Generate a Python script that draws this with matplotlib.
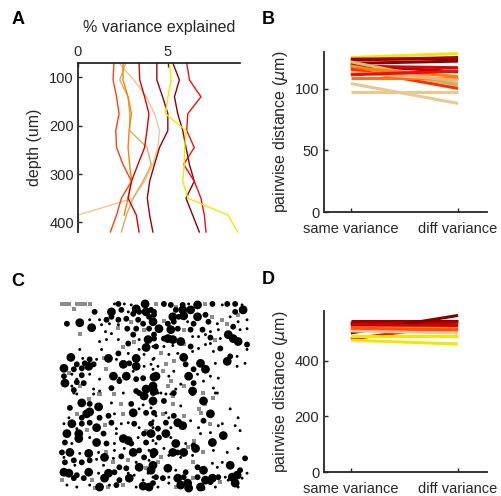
import numpy as np
import matplotlib
matplotlib.use('Agg')
import matplotlib.pyplot as plt

plt.rcParams['font.family'] = ['Liberation Sans', 'DejaVu Sans']
plt.rcParams['axes.edgecolor'] = '#262626'
plt.rcParams['xtick.color'] = '#262626'
plt.rcParams['ytick.color'] = '#262626'
plt.rcParams['axes.labelcolor'] = '#262626'

# ---- panel A: % variance explained vs depth
profundidad = [70, 105, 140, 175, 210, 245, 280, 315, 350, 385, 420]
var_amarillo = [5.08, 5.17, 5.0, 4.86, 6.0, 5.93, 5.9, 5.82, 6.1, 8.33, 8.88]
var_granate1 = [4.38, 4.38, 4.7, 4.99, 4.99, 4.53, 4.25, 3.98, 3.85, 3.98, 4.16]
var_granate2 = [5.27, 5.63, 5.36, 5.54, 5.82, 6.0, 6.19, 6.46, 6.0, 6.37, 6.74]
var_rojo_der = [6.04, 6.19, 6.83, 6.1, 6.04, 6.46, 5.87, 6.46, 6.83, 7.02, 7.11]
var_rojo_med = [3.39, 3.43, 3.7, 3.94, 3.83, 3.7, 3.33, 2.97, 2.78, 3.24, 3.39]
var_naranjarojo = [1.99, 1.95, 2.14, 2.28, 2.1, 2.14, 2.5, 2.97, 2.41, 2.14, 1.8]
var_naranja = [2.5, 2.5, 2.78, 2.97, 2.84, 2.78, 2.87, 2.97, 2.78, 2.56, np.nan]
var_dorado = [2.65, 2.32, 2.78, 2.87, 2.87, 3.83, 4.07, 3.61, 3.06, 2.69, 2.41]
var_trigo = [2.28, 3.1, 3.79, 4.25, 4.53, 4.44, 4.16, 3.7, 3.06, 0.0, 0.0]

lineas_A = [
    (var_trigo, '#ecc890'),
    (var_dorado, '#d2b060'),
    (var_naranja, '#ff8000'),
    (var_naranjarojo, '#ff4010'),
    (var_rojo_med, '#e00000'),
    (var_granate1, '#a00000'),
    (var_granate2, '#900000'),
    (var_rojo_der, '#f01010'),
    (var_amarillo, '#f0e800'),
]

# ---- panel B: pairwise distance (um), same vs diff variance
B_same = [125.5, 124.2, 123.4, 120.7, 119.3, 118.5, 122.0, 118.6, 117.2,
          116.1, 109.0, 113.4, 104.4, 97.1, 111.5]
B_diff = [128.8, 124.7, 125.5, 122.6, 113.9, 117.2, 104.4, 103.1, 110.0,
          100.4, 109.0, 107.2, 88.2, 97.1, 114.5]
B_colores = ['#f0e800', '#900000', '#a00000', '#900000', '#b00000', '#e00000',
             '#ccc070', '#c8b060', '#ff8000', '#ff3000', '#ff7010', '#f4b080',
             '#ecc890', '#ecc890', '#e81010']

# ---- panel D
D_same = [543, 537, 535, 501, 479, 525, 513, 508, 491, 475, 518, 530]
D_diff = [543, 531, 537, 564, 531, 519, 516, 501, 491, 461, 512, 528]
D_colores = ['#900000', '#a00000', '#b00000', '#800000', '#ff1010', '#d2b060',
             '#ff8000', '#f4c8a0', '#f0e800', '#f0e800', '#ff5010', '#d00000']

categorias = ['same variance', 'diff variance']

# ---- panel C: cell positions (um) and sizes
celulas = [
    (55,4,2),(59,4,4),(65,4,2),(72,5,2),(77,9,6),(86,4,6),(92,10,4),(87,12,6),(80,12,4),(35,12,4),
    (52,12,6),(62,10,4),(69,12,2),(74,14,4),(52,17,4),(47,20,4),(59,20,4),(67,19,4),(79,20,4),(90,17,4),
    (95,15,4),(84,24,4),(7,24,4),(20,23,6),(30,20,2),(40,20,2),(50,24,2),(59,25,2),(32,28,6),(42,25,2),
    (68,29,4),(77,29,4),(90,29,4),(46,32,2),(52,34,2),(74,35,4),(80,40,2),(89,40,6),(95,39,4),(40,42,2),
    (47,40,2),(59,40,2),(69,44,4),(87,48,6),(80,50,2),(94,47,2),(20,50,2),(42,50,2),(59,54,4),(69,54,2),
    (77,59,6),(85,55,2),(11,58,6),(23,59,2),(30,60,4),(49,59,6),(57,60,2),(94,60,2),(4,69,6),(17,65,4),
    (25,64,4),(34,65,4),(37,60,2),(29,67,6),(64,65,6),(70,64,4),(77,67,6),(85,67,2),(92,65,2),(14,70,4),
    (22,69,4),(74,72,2),(94,70,2),(4,77,4),(12,75,2),(22,76,4),(30,75,2),(54,77,6),(60,79,2),(67,77,6),
    (77,80,4),(84,79,4),(95,78,6),(17,80,2),(40,80,2),(60,82,4),(5,84,6),(17,83,4),(24,84,4),(12,87,2),
    (14,91,4),(34,90,2),(40,92,2),(52,89,4),(64,94,2),(77,92,4),(87,90,6),(94,87,6),(17,95,2),
    (105,4,4),(112,5,4),(124,5,4),(130,4,2),(139,5,6),(154,4,4),(164,5,2),(169,4,4),(177,4,4),(184,5,2),
    (95,12,4),(117,10,4),(124,10,6),(132,10,6),(139,17,6),(147,15,4),(172,17,2),(177,12,4),(185,10,6),(114,17,6),
    (120,17,4),(125,16,6),(94,22,6),(109,24,4),(115,22,4),(129,22,2),(135,24,4),(150,22,4),(159,24,2),(175,27,4),
    (180,22,2),(189,20,2),(100,29,6),(112,30,6),(119,29,4),(132,30,4),(144,30,4),(152,32,2),(160,30,2),(182,30,2),
    (189,29,2),(95,35,4),(109,39,6),(114,40,6),(122,42,6),(134,37,2),(140,37,2),(147,35,2),(152,38,4),(162,39,2),
    (170,35,6),(175,39,6),(180,42,6),(189,45,4),(105,39,4),(97,47,4),(105,47,2),(114,46,2),(132,47,4),(140,49,2),
    (147,45,2),(152,44,2),(162,49,4),(172,57,4),(179,57,2),(110,55,2),(119,54,2),(125,58,6),(134,52,2),(155,52,2),
    (189,50,2),(95,59,2),(99,67,2),(127,65,4),(142,64,6),(147,70,6),(157,64,2),(169,62,6),(179,67,2),(187,64,2),
    (135,70,4),(115,72,2),(97,77,6),(110,77,2),(130,77,6),(139,75,2),(152,77,2),(160,79,2),(122,85,2),(135,84,4),
    (145,82,2),(95,92,6),(117,90,2),(134,92,6),(155,89,2),(159,94,2),(102,94,2),(112,95,2),
    (14,94,2),(34,95,2),(80,94,4),(85,97,6),(94,94,4),(22,104,6),(39,108,6),(52,104,2),(72,105,4),(84,106,2),
    (94,102,6),(30,105,4),(10,109,4),(27,115,6),(30,113,6),(40,119,4),(49,117,4),(55,115,2),(74,114,6),(80,110,2),
    (87,114,4),(92,109,2),(9,119,2),(22,119,4),(4,125,2),(12,125,6),(22,125,4),(30,124,4),(37,129,6),(52,124,4),
    (62,125,2),(69,124,2),(75,125,4),(80,129,2),(94,122,2),(17,130,2),(57,130,2),(94,129,2),(7,135,6),(19,135,6),
    (19,140,6),(30,139,2),(44,135,4),(57,135,2),(64,140,6),(69,142,6),(79,139,2),(85,135,4),(94,137,2),(5,144,4),
    (12,145,2),(37,144,6),(47,145,4),(55,145,2),(72,145,4),(87,144,4),(94,142,2),(65,150,2),(2,154,4),(10,154,6),
    (29,155,6),(39,154,2),(55,152,2),(74,154,6),(80,152,4),(90,152,2),(20,155,2),(4,159,2),(45,159,6),(62,158,4),
    (85,159,4),(94,157,4),(54,160,2),(5,164,4),(14,162,4),(22,164,4),(30,162,4),(37,161,2),(77,164,2),(90,162,2),
    (15,167,2),(44,167,2),(60,169,4),(67,170,4),(80,169,6),(94,167,6),(4,174,6),(9,175,6),(17,177,4),(29,174,6),
    (39,175,2),(49,175,6),(55,174,4),(69,175,2),(75,177,2),(89,175,2),(14,180,4),(24,180,4),(45,180,6),(60,182,4),
    (70,180,6),(84,182,2),(94,179,2),(7,187,2),(17,189,2),(30,187,2),(40,189,6),(50,187,2),(57,187,4),(77,189,2),
    (84,188,6),(90,189,6),
    (99,94,2),(107,95,2),(115,94,4),(134,94,4),(157,94,2),(105,102,4),(122,107,2),(145,102,6),(94,105,2),(95,114,4),
    (107,114,2),(115,117,4),(152,115,6),(172,110,2),(180,119,2),(97,117,2),(110,119,2),(107,124,4),(119,124,6),(124,127,6),
    (132,122,2),(145,122,4),(160,127,2),(177,127,2),(99,130,4),(112,129,2),(164,125,2),(92,125,4),(140,129,2),(107,135,6),
    (100,139,4),(92,135,6),(142,135,2),(152,134,2),(165,137,6),(182,132,2),(112,139,2),(97,145,2),(117,145,6),(127,145,2),
    (154,144,6),(135,147,4),(95,154,6),(105,150,2),(114,154,6),(119,154,4),(125,154,6),(137,150,6),(155,152,2),(169,154,2),
    (180,150,2),(122,159,2),(110,157,2),(134,157,2),(94,167,4),(109,170,6),(127,174,4),(139,169,4),(145,172,6),(154,165,2),
    (159,169,2),(164,164,2),(172,167,6),(182,172,4),(187,160,4),(92,172,6),(117,172,2),(97,179,4),(104,180,4),(110,179,2),
    (119,180,6),(125,179,4),(139,179,4),(147,182,6),(154,180,6),(160,179,4),(167,179,2),(174,179,6),(179,177,6),(184,180,2),
    (189,175,2),(94,185,4),(110,185,2),(122,187,6),(129,185,6),(142,189,6),(152,184,4),(170,182,2),(177,185,6),(99,189,2),
    (130,190,6),(144,190,4),(157,189,2),(180,189,2),
]
grises = [
    (2,4),(5,4),(9,4),(17,4),(21,4),(25,4),(30,4),(14,9),(72,22),(59,28),(85,30),(20,34),(64,47),(75,42),
    (44,59),(47,70),(9,74),(20,87),(55,95),(39,95),
    (97,4),(117,7),(147,4),(154,17),(164,20),(180,15),(105,21),(169,24),(125,30),(125,44),(157,40),(102,54),
    (107,65),(115,62),(104,72),(112,82),(109,87),(125,87),(145,94),
    (40,95),(29,100),(62,105),(17,115),(64,115),(45,126),(27,131),(87,132),(47,154),(54,164),(69,162),
    (87,170),(2,182),(32,182),(35,190),(49,189),(64,187),
    (114,97),(94,100),(114,105),(147,105),(155,99),(104,115),(125,117),(140,110),(142,114),(152,125),
    (135,142),(129,149),(145,154),(102,159),(99,164),(134,164),(134,180),(162,184),(117,189),
]

W, H = 501, 496
fig = plt.figure(figsize=(W / 100, H / 100), dpi=100)


def caja(x0, y0, x1, y1):
    return [x0 / W, 1 - y1 / H, (x1 - x0) / W, (y1 - y0) / H]


tam_tick = 10.5
tam_label = 11.5

# A
axA = fig.add_axes(caja(78, 63, 240, 232))
for valores, color in lineas_A:
    axA.plot(valores, profundidad, color=color, lw=1.0, clip_on=False)
axA.set_xlim(0, 9)
axA.set_ylim(420, 70)
axA.xaxis.tick_top()
axA.xaxis.set_label_position('top')
axA.set_xticks([0, 5])
axA.set_yticks([100, 200, 300, 400])
axA.set_xlabel('% variance explained', fontsize=tam_label, labelpad=9)
axA.set_ylabel('depth (um)', fontsize=tam_label, labelpad=5)
axA.spines['right'].set_visible(False)
axA.spines['bottom'].set_visible(False)
axA.tick_params(direction='in', length=3, labelsize=tam_tick, width=1, pad=3)
for s in axA.spines.values():
    s.set_linewidth(1.3)


def panel_pares(ax, same, diff, colores, ylim, yticks):
    for a, b, c in zip(same, diff, colores):
        ax.plot([1, 2], [a, b], color=c, lw=2.2, solid_capstyle='butt')
    ax.set_xlim(0.75, 2.27)
    ax.set_ylim(*ylim)
    ax.set_xticks([1, 2])
    ax.set_xticklabels(categorias)
    ax.set_yticks(yticks)
    ax.set_ylabel(r'pairwise distance ($\mu$m)', fontsize=tam_label, labelpad=3)
    ax.spines['right'].set_visible(False)
    ax.spines['top'].set_visible(False)
    ax.tick_params(direction='in', length=3, labelsize=tam_tick, width=1)
    ax.tick_params(axis='x', pad=7)
    for s in ax.spines.values():
        s.set_linewidth(1.3)


axB = fig.add_axes(caja(324, 52, 487, 212))
panel_pares(axB, B_same, B_diff, B_colores, (0, 130), [0, 50, 100])

axD = fig.add_axes(caja(324, 311, 487, 472))
panel_pares(axD, D_same, D_diff, D_colores, (0, 580), [0, 200, 400])

# C
axC = fig.add_axes(caja(58, 298, 250, 494))
gx = [p[0] for p in grises]
gy = [p[1] for p in grises]
axC.scatter(gx, gy, s=10, marker='s', color='#8c8c8c', linewidths=0)
cx = [p[0] for p in celulas]
cy = [p[1] for p in celulas]
cd = np.array([p[2] for p in celulas], dtype=float)
axC.scatter(cx, cy, s=(1.05 * cd) ** 2, color='black', linewidths=0)
axC.set_xlim(-2, 192)
axC.set_ylim(196, -2)
axC.axis('off')

for letra, x, y in [('A', 18, 19), ('B', 268, 19), ('C', 18, 282), ('D', 268, 280)]:
    fig.text(x / W, 1 - y / H, letra, fontsize=13, fontweight='bold',
             ha='center', va='center', color='black')

fig.savefig('out.png', dpi=100)
